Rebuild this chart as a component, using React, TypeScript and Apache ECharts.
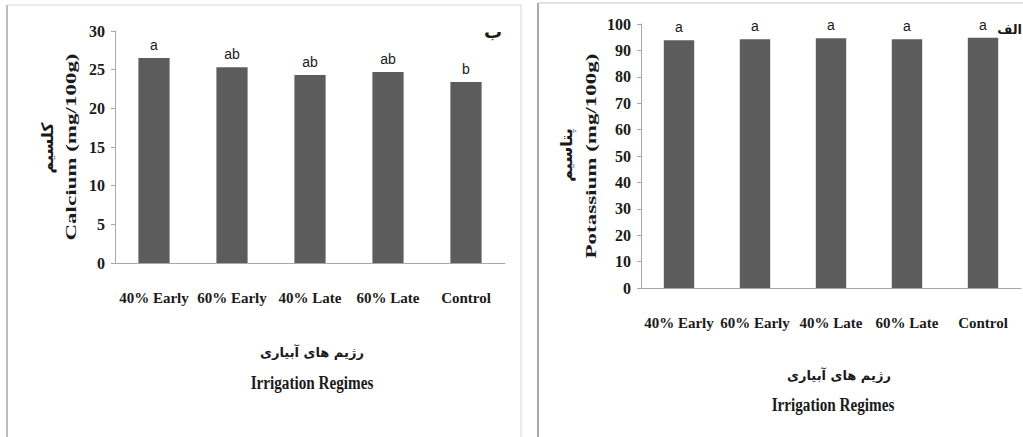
import React, { useEffect, useRef } from "react";
import * as echarts from "echarts";

const categories = ["40% Early", "60% Early", "40% Late", "60% Late", "Control"];
const calciumValues = [26.5, 25.3, 24.3, 24.7, 23.4];
const calciumLetters = ["a", "ab", "ab", "ab", "b"];
const potassiumValues = [93.8, 94.2, 94.6, 94.2, 94.8];
const potassiumLetters = ["a", "a", "a", "a", "a"];

const SERIF = "'Liberation Serif', 'Times New Roman', serif";
const ARABIC = "'DejaVu Sans', sans-serif";
const BAR = "#5c5c5c";
const AXIS = "#a8a8a8";

export default function App() {
  const ref = useRef<HTMLDivElement>(null);

  useEffect(() => {
    if (!ref.current) return;
    const chart = echarts.init(ref.current, null, { renderer: "svg" });

    const yAxisCommon = (min: number, max: number, interval: number, grid: number) => ({
      type: "value",
      gridIndex: grid,
      min,
      max,
      interval,
      axisLine: { show: true, lineStyle: { color: AXIS, width: 1 } },
      axisTick: { show: true, length: 4, lineStyle: { color: AXIS } },
      splitLine: { show: false },
      axisLabel: {
        margin: 10,
        fontFamily: SERIF,
        fontWeight: "bold",
        fontSize: 16,
        color: "#1a1a1a",
      },
    });

    const xAxisCommon = (grid: number) => ({
      type: "category",
      gridIndex: grid,
      data: categories,
      axisLine: { show: true, lineStyle: { color: AXIS, width: 1 } },
      axisTick: { show: false },
      axisLabel: {
        margin: 27,
        fontFamily: SERIF,
        fontWeight: "bold",
        fontSize: 15,
        color: "#1a1a1a",
        interval: 0,
      },
    });

    const letterLabel = (letters: string[]) => ({
      show: true,
      position: "top",
      distance: 6,
      fontFamily: "'Liberation Sans', Arial, sans-serif",
      fontSize: 14,
      color: "#1a1a1a",
      formatter: (p: any) => letters[p.dataIndex],
    });

    const titleText = (x: number, y: number, text: string, opts: any = {}) => ({
      type: "text",
      x,
      y,
      rotation: opts.rotation || 0,
      scaleX: opts.scaleX ?? 1,
      scaleY: opts.scaleY ?? 1,
      style: {
        x: 0,
        y: 0,
        text,
        align: opts.align || "center",
        verticalAlign: "middle",
        fontFamily: opts.fontFamily || SERIF,
        fontWeight: "bold",
        fontSize: opts.fontSize || 16,
        fill: "#1a1a1a",
      },
    });

    const line = (x1: number, y1: number, x2: number, y2: number, color: string, w: number) => ({
      type: "line",
      shape: { x1, y1, x2, y2 },
      style: { stroke: color, lineWidth: w },
      silent: true,
    });

    chart.setOption({
      animation: false,
      backgroundColor: "#ffffff",
      grid: [
        { left: 115, top: 31, width: 390, height: 232 },
        { left: 641, top: 24, width: 380, height: 264 },
      ],
      xAxis: [xAxisCommon(0), xAxisCommon(1)],
      yAxis: [yAxisCommon(0, 30, 5, 0), yAxisCommon(0, 100, 10, 1)],
      series: [
        {
          type: "bar",
          xAxisIndex: 0,
          yAxisIndex: 0,
          data: calciumValues,
          barWidth: "40%",
          itemStyle: { color: BAR },
          label: letterLabel(calciumLetters),
        },
        {
          type: "bar",
          xAxisIndex: 1,
          yAxisIndex: 1,
          data: potassiumValues,
          barWidth: "40%",
          itemStyle: { color: BAR },
          label: letterLabel(potassiumLetters),
        },
      ],
      graphic: [
        // panel borders
        line(7, 5, 7, 437, "#bdbdbd", 2),
        line(7, 5, 521, 5, "#d6d6d6", 1),
        line(521, 5, 521, 437, "#d6d6d6", 1),
        line(538, 3, 538, 437, "#a9a9a9", 2),
        line(538, 3, 1023, 3, "#c6c6c6", 1),
        // left panel titles
        titleText(47, 148, "کلسیم", { rotation: Math.PI / 2, fontFamily: ARABIC, fontSize: 16 }),
        titleText(70, 147, "Calcium (mg/100g)", { rotation: Math.PI / 2, fontSize: 23, scaleY: 0.68 }),
        titleText(312, 352, "رژیم های آبیاری", { fontFamily: ARABIC, fontSize: 13 }),
        titleText(312, 383, "Irrigation Regimes", { fontSize: 19, scaleX: 0.8 }),
        titleText(493, 31, "ب", { fontFamily: ARABIC, fontSize: 18 }),
        // right panel titles
        titleText(566, 155, "پتاسیم", { rotation: Math.PI / 2, fontFamily: ARABIC, fontSize: 16 }),
        titleText(590, 156, "Potassium (mg/100g)", { rotation: Math.PI / 2, fontSize: 23, scaleY: 0.68 }),
        titleText(839, 375, "رژیم های آبیاری", { fontFamily: ARABIC, fontSize: 13 }),
        titleText(833, 405, "Irrigation Regimes", { fontSize: 19, scaleX: 0.8 }),
        titleText(1022, 29, "الف", { fontFamily: ARABIC, fontSize: 13, align: "right" }),
      ],
    });

    return () => chart.dispose();
  }, []);

  return (
    <div
      ref={ref}
      style={{ position: "fixed", left: 0, top: 0, width: 1023, height: 437, background: "#fff" }}
    />
  );
}
